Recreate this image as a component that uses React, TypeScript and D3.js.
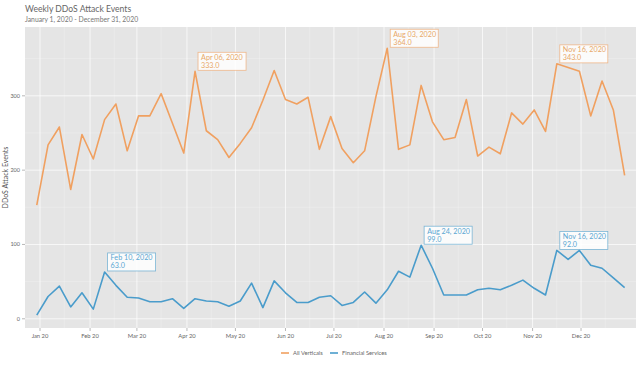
import React from "react";
import * as d3 from "d3";

const allVerticals = [153, 234, 258, 174, 248, 215, 268, 289, 226, 273, 273, 303, 263, 223, 333, 253, 241, 217, 236, 257, 294, 334, 295, 289, 298, 228, 272, 229, 210, 226, 299, 364, 228, 234, 314, 265, 241, 244, 295, 219, 231, 222, 277, 262, 281, 252, 343, 338, 333, 273, 320, 281, 193];
const financialServices = [5, 30, 44, 16, 35, 13, 63, 45, 29, 28, 23, 23, 27, 14, 27, 24, 23, 17, 24, 48, 15, 51, 35, 22, 22, 29, 31, 18, 22, 36, 21, 39, 64, 56, 99, 68, 32, 32, 32, 39, 41, 39, 45, 52, 41, 32, 92, 80, 92, 72, 68, 55, 42];
const startWeek = "2019-12-30";
const yTicks = [0, 100, 200, 300];
const seriesNames = ["All Verticals", "Financial Services"];
const annotationsOrange = [14, 31, 46];
const annotationsBlue = [6, 34, 46];

const W = 640, H = 365;
const left = 25, right = 636, top = 27, bottom = 328;
const ORANGE = "#f0a060";
const BLUE = "#4a9ccb";
const FONT = "Lato, 'Open Sans', sans-serif";

export default function App() {
  const parse = d3.timeParse("%Y-%m-%d");
  const start = parse(startWeek) as Date;
  const dates = allVerticals.map((_, i) => d3.timeDay.offset(start, i * 7));
  const x = d3.scaleTime().domain([new Date(2020, 0, 1), new Date(2021, 0, 1)]).range([40, 631.1]);
  const y = d3.scaleLinear().domain([-12.4, 392.6]).range([bottom, top]);
  const line = d3.line<number>().x((_, i) => x(dates[i])).y((d) => y(d));
  const months = d3.timeMonth.range(new Date(2020, 0, 1), new Date(2021, 0, 1));
  const midMonths = months.map((m) => d3.timeDay.offset(m, 15));
  const fmtMonth = d3.timeFormat("%b %y");
  const fmtDate = d3.timeFormat("%b %d, %Y");
  const minorY = [50, 150, 250, 350];

  const renderAnn = (idx: number, series: number[], color: string, textColor: string, key: string) => {
    const px = x(dates[idx]);
    const py = y(series[idx]);
    const bx = px + 3, by = py - 19;
    return (
      <g key={key}>
        <rect x={bx} y={by} width={48} height={18} fill="#ffffff" fillOpacity={0.85} stroke={color} strokeOpacity={0.7} strokeWidth={0.8} />
        <text x={bx + 3} y={by + 7.5} fontSize={7.2} fill={textColor} fontFamily={FONT}>{fmtDate(dates[idx])}</text>
        <text x={bx + 3} y={by + 15.5} fontSize={7.2} fill={textColor} fontFamily={FONT}>{series[idx].toFixed(1)}</text>
      </g>
    );
  };

  return (
    <svg width={W} height={H} style={{ position: "absolute", left: 0, top: 0 }}>
      <rect x={0} y={0} width={W} height={H} fill="#ffffff" />
      <text x={25} y={12} fontSize={8.6} fill="#666" fontFamily={FONT}>Weekly DDoS Attack Events</text>
      <text x={25} y={22} fontSize={6.8} fill="#777" fontFamily={FONT}>January 1, 2020 - December 31, 2020</text>
      <rect x={left} y={top} width={right - left} height={bottom - top} fill="#e5e5e5" />
      {minorY.map((v) => (
        <line key={"my" + v} x1={left} x2={right} y1={y(v)} y2={y(v)} stroke="#fff" strokeOpacity={0.45} strokeWidth={0.5} />
      ))}
      {midMonths.map((m, i) => (
        <line key={"mx" + i} x1={x(m)} x2={x(m)} y1={top} y2={bottom} stroke="#fff" strokeOpacity={0.45} strokeWidth={0.5} />
      ))}
      {yTicks.map((v) => (
        <line key={"gy" + v} x1={left} x2={right} y1={y(v)} y2={y(v)} stroke="#fff" strokeOpacity={0.9} strokeWidth={0.8} />
      ))}
      {months.map((m, i) => (
        <line key={"gx" + i} x1={x(m)} x2={x(m)} y1={top} y2={bottom} stroke="#fff" strokeOpacity={0.9} strokeWidth={0.8} />
      ))}
      {yTicks.map((v) => (
        <g key={"ty" + v}>
          <line x1={left - 3} x2={left} y1={y(v)} y2={y(v)} stroke="#888" strokeWidth={0.6} />
          <text x={left - 5} y={y(v) + 2} fontSize={5.5} textAnchor="end" fill="#666" fontFamily={FONT}>{v}</text>
        </g>
      ))}
      {months.map((m, i) => (
        <g key={"tx" + i}>
          <line x1={x(m)} x2={x(m)} y1={bottom} y2={bottom + 3} stroke="#888" strokeWidth={0.6} />
          <text x={x(m)} y={bottom + 10} fontSize={5.8} textAnchor="middle" fill="#666" fontFamily={FONT}>{fmtMonth(m)}</text>
        </g>
      ))}
      <text transform={`translate(8,${(top + bottom) / 2}) rotate(-90)`} fontSize={7} textAnchor="middle" fill="#555" fontFamily={FONT}>DDoS Attack Events</text>
      <path d={line(allVerticals) || ""} fill="none" stroke={ORANGE} strokeWidth={1.6} strokeLinejoin="round" />
      <path d={line(financialServices) || ""} fill="none" stroke={BLUE} strokeWidth={1.6} strokeLinejoin="round" />
      {annotationsOrange.map((idx) => renderAnn(idx, allVerticals, ORANGE, "#e8a868", "ao" + idx))}
      {annotationsBlue.map((idx) => renderAnn(idx, financialServices, BLUE, "#5aa6d2", "ab" + idx))}
      <g>
        <line x1={281} x2={289} y1={353} y2={353} stroke={ORANGE} strokeWidth={1.6} />
        <text x={293} y={355} fontSize={5.8} fill="#666" fontFamily={FONT}>{seriesNames[0]}</text>
        <line x1={330} x2={338} y1={353} y2={353} stroke={BLUE} strokeWidth={1.6} />
        <text x={342} y={355} fontSize={5.8} fill="#666" fontFamily={FONT}>{seriesNames[1]}</text>
      </g>
    </svg>
  );
}
